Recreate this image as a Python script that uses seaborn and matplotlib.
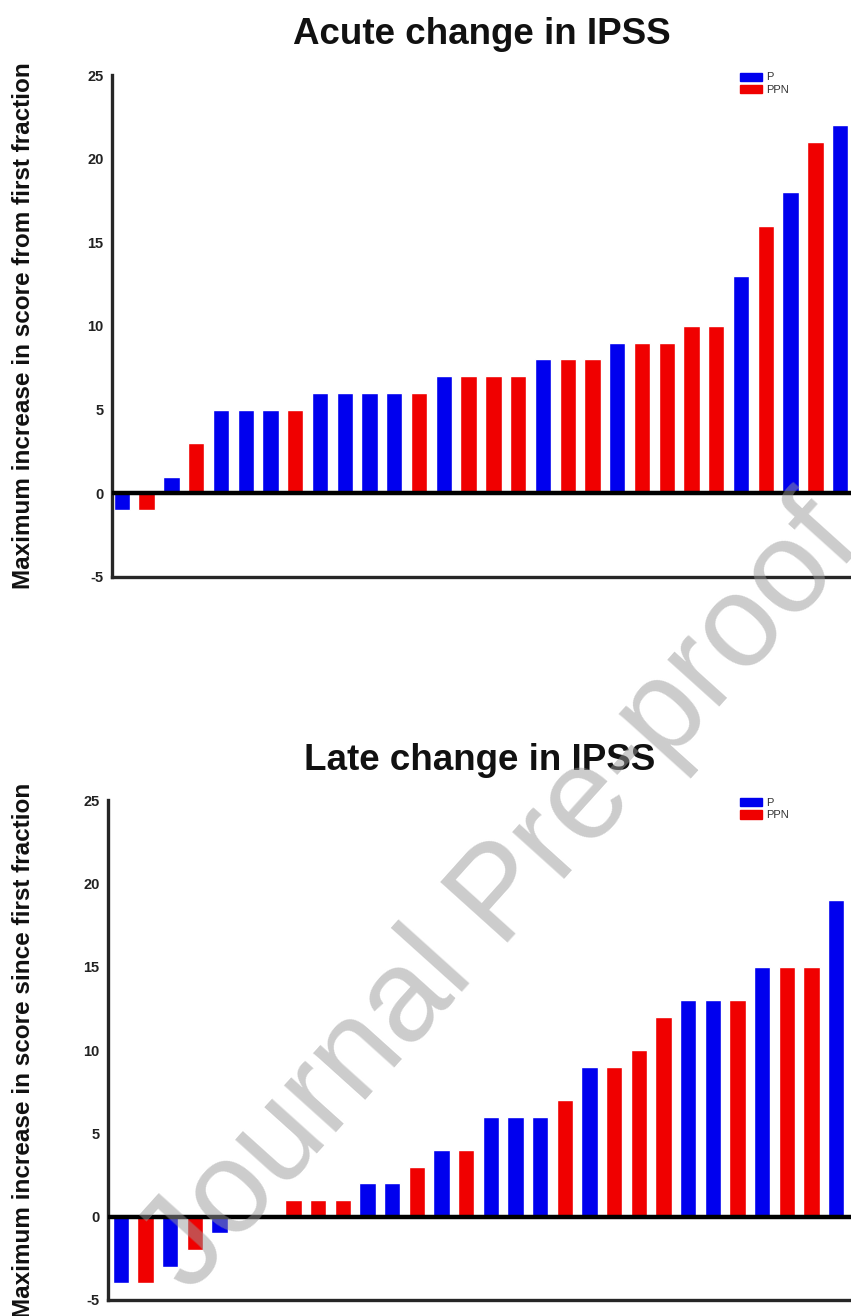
import pandas as pd
import matplotlib
matplotlib.use('Agg')
import matplotlib.pyplot as plt
import seaborn as sns
from matplotlib.patches import Patch

# Acute change in IPSS (sorted patients)
acute_group = ['P', 'PPN', 'P', 'PPN', 'P', 'P', 'P', 'PPN', 'P', 'P',
               'P', 'P', 'PPN', 'P', 'PPN', 'PPN', 'PPN', 'P', 'PPN', 'PPN',
               'P', 'PPN', 'PPN', 'PPN', 'PPN', 'P', 'PPN', 'P', 'PPN', 'P']
acute_score = [-1, -1, 1, 3, 5, 5, 5, 5, 6, 6,
               6, 6, 6, 7, 7, 7, 7, 8, 8, 8,
               9, 9, 9, 10, 10, 13, 16, 18, 21, 22]

# Late change in IPSS
late_group = ['P', 'PPN', 'P', 'PPN', 'P', 'P', 'PPN', 'PPN', 'PPN', 'PPN',
              'P', 'P', 'PPN', 'P', 'PPN', 'P', 'P', 'P', 'PPN', 'P',
              'PPN', 'PPN', 'PPN', 'P', 'P', 'PPN', 'P', 'PPN', 'PPN', 'P']
late_score = [-4, -4, -3, -2, -1, 0, 0, 1, 1, 1,
              2, 2, 3, 4, 4, 6, 6, 6, 7, 9,
              9, 10, 12, 13, 13, 13, 15, 15, 15, 19]

groups = ['P', 'PPN']
colors = {'P': '#0000ee', 'PPN': '#f00000'}
yticks = [-5, 0, 5, 10, 15, 20, 25]

sns.set_style('white')
plt.rcParams['font.family'] = ['Liberation Sans', 'DejaVu Sans']

fig = plt.figure(figsize=(8.51, 13.16), dpi=100)
ax1 = fig.add_axes([0.1316, 0.5616, 0.8684, 0.3814])
ax2 = fig.add_axes([0.127, 0.0122, 0.873, 0.3798])


def draw(ax, group, score, title, ylabel, xlim, label_x):
    df = pd.DataFrame({'idx': range(len(score)), 'score': score, 'group': group})
    sns.barplot(data=df, x='idx', y='score', hue='group', hue_order=groups,
                palette=colors, dodge=False, width=0.66, ax=ax, legend=False,
                saturation=1)
    ax.axhline(0, color='black', lw=3.2, zorder=3)
    ax.set_ylim(-5, 25)
    ax.set_xlim(*xlim)
    ax.set_yticks(yticks)
    ax.set_yticklabels([str(t) for t in yticks], fontweight='bold', fontsize=10.5,
                       color='#222222')
    ax.set_xticks([])
    ax.set_xlabel('')
    ax.set_ylabel(ylabel, fontweight='bold', fontsize=17.5, color='#111111')
    ax.yaxis.set_label_coords(label_x, 0.5)
    ax.set_title(title, fontweight='bold', fontsize=26.5, pad=22, color='#111111')
    for s in ['top', 'right']:
        ax.spines[s].set_visible(False)
    for s in ['left', 'bottom']:
        ax.spines[s].set_linewidth(2.4)
    ax.tick_params(axis='y', direction='out', length=5, width=2.2, pad=1)
    handles = [Patch(color=colors[g], label=g) for g in groups]
    ax.legend(handles=handles, loc='upper right', bbox_to_anchor=(0.93, 1.025),
              frameon=False, fontsize=8, handlelength=2.0, handleheight=0.75,
              labelspacing=0.25, handletextpad=0.4, labelcolor='#333333')


draw(ax1, acute_group, acute_score, 'Acute change in IPSS',
     'Maximum increase in score from first fraction', (-0.4, 29.44), -0.104)
draw(ax2, late_group, late_score, 'Late change in IPSS',
     'Maximum increase in score since first fraction', (-0.52, 29.6), -0.098)

fig.text(0.59, 0.318, 'Journal Pre-proof', fontsize=94, color='#9a9a9a',
         alpha=0.5, rotation=48, ha='center', va='center', zorder=10)

fig.savefig('out.png', dpi=100)
